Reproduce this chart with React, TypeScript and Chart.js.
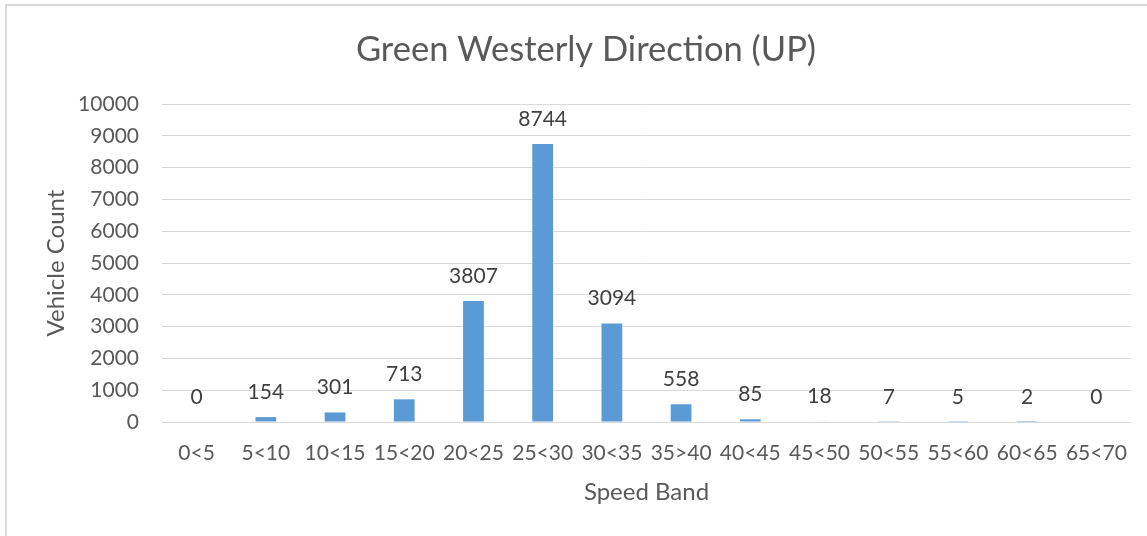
import React, { useEffect, useRef } from "react";
import { Chart, registerables } from "chart.js";

Chart.register(...registerables);

const categories = ["0<5", "5<10", "10<15", "15<20", "20<25", "25<30", "30<35", "35>40", "40<45", "45<50", "50<55", "55<60", "60<65", "65<70"];
const counts = [0, 154, 301, 713, 3807, 8744, 3094, 558, 85, 18, 7, 5, 2, 0];
const yMin = 0;
const yMax = 10000;
const yStep = 1000;
const chartTitle = "Green Westerly Direction (UP)";
const xTitle = "Speed Band";
const yTitle = "Vehicle Count";

const FONT = "Lato";

const decorPlugin = {
  id: "decor",
  beforeDraw(chart: any) {
    const ctx = chart.ctx;
    ctx.save();
    ctx.fillStyle = "#ffffff";
    ctx.fillRect(0, 0, chart.width, chart.height);
    ctx.strokeStyle = "#d9d9d9";
    ctx.lineWidth = 2;
    ctx.strokeRect(6, 5, chart.width + 20, chart.height + 20);
    ctx.restore();
  },
  afterDraw(chart: any) {
    const ctx = chart.ctx;
    const area = chart.chartArea;
    const xScale = chart.scales.x;
    ctx.save();
    ctx.fillStyle = "#595959";
    ctx.textAlign = "center";
    ctx.textBaseline = "middle";
    // category labels, placed by the x scale
    ctx.font = `21px ${FONT}`;
    chart.data.labels.forEach((lab: string, i: number) => {
      ctx.fillText(lab, xScale.getPixelForTick(i), 453);
    });
    ctx.font = `34.5px ${FONT}`;
    ctx.fillText(chartTitle, 586, 50);
    ctx.font = `24px ${FONT}`;
    ctx.fillText(xTitle, (area.left + area.right) / 2, 492);
    ctx.translate(56, (area.top + area.bottom) / 2);
    ctx.rotate(-Math.PI / 2);
    ctx.fillText(yTitle, 0, 0);
    ctx.restore();
  },
  afterDatasetsDraw(chart: any) {
    const ctx = chart.ctx;
    const meta = chart.getDatasetMeta(0);
    const data = chart.data.datasets[0].data;
    ctx.save();
    ctx.fillStyle = "#404040";
    ctx.textAlign = "center";
    ctx.textBaseline = "middle";
    ctx.font = `21px ${FONT}`;
    meta.data.forEach((bar: any, i: number) => {
      ctx.fillText(String(data[i]), bar.x, bar.y - 25);
    });
    ctx.restore();
  },
};

export default function App() {
  const ref = useRef<HTMLCanvasElement>(null);
  useEffect(() => {
    document.body.style.margin = "0";
    const chart = new Chart(ref.current!, {
      type: "bar",
      data: {
        labels: categories,
        datasets: [
          {
            data: counts,
            backgroundColor: "#5b9bd5",
            barPercentage: 0.3,
            categoryPercentage: 1.0,
          },
        ],
      },
      options: {
        animation: false,
        responsive: false,
        layout: { padding: { left: 0, top: 104, right: 16, bottom: 0 } },
        plugins: {
          legend: { display: false },
          title: { display: false },
          tooltip: { enabled: false },
        },
        scales: {
          x: {
            grid: { display: false },
            border: { display: false },
            ticks: { display: false, autoSkip: false, maxRotation: 0 },
            afterFit(scale: any) {
              scale.height = 114;
              scale.paddingLeft = 0;
              scale.paddingRight = 0;
            },
          },
          y: {
            min: yMin,
            max: yMax,
            grid: { color: "#d9d9d9", lineWidth: 1, drawTicks: false },
            border: { display: false },
            ticks: {
              stepSize: yStep,
              color: "#595959",
              font: { family: FONT, size: 21 },
              padding: 23,
              callback: (v: any) => String(v),
            },
            afterFit(scale: any) {
              scale.width = 162;
              scale.paddingTop = 0;
              scale.paddingBottom = 0;
            },
          },
        },
      },
      plugins: [decorPlugin],
    });
    return () => chart.destroy();
  }, []);
  return <canvas ref={ref} width={1147} height={536} style={{ display: "block" }} />;
}
